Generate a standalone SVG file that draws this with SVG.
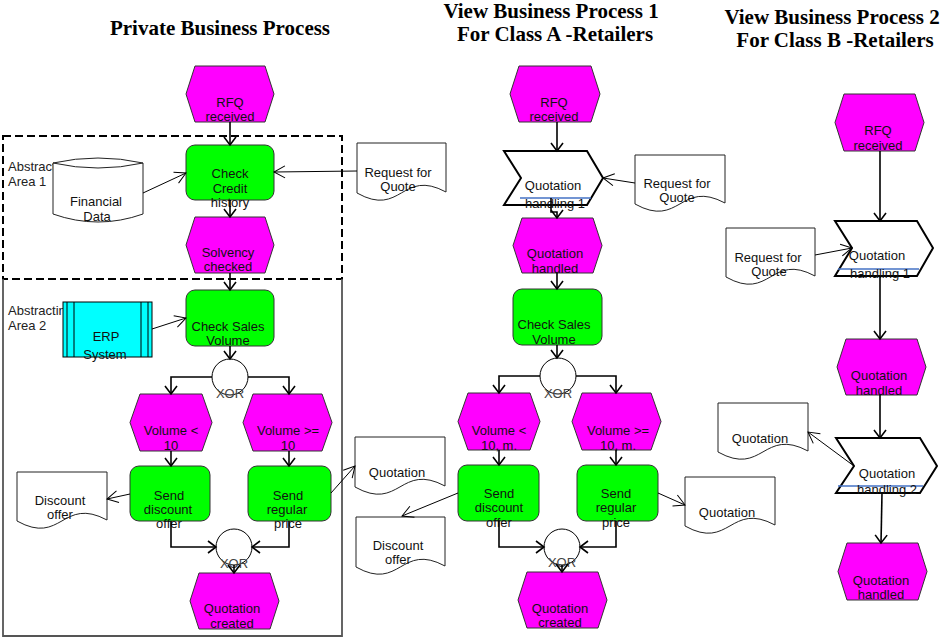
<svg xmlns="http://www.w3.org/2000/svg" width="945" height="637" viewBox="0 0 945 637">
<defs>
<style>
.ev{fill:#FF00FF;stroke:#333;stroke-width:1}
.fn{fill:#00FF00;stroke:#333;stroke-width:1}
.doc{fill:#fff;stroke:#222;stroke-width:1}
.chev{fill:#fff;stroke:#000;stroke-width:2}
.blue{stroke:#4472C4;stroke-width:1.5;fill:none}
.xor{fill:#fff;stroke:#000;stroke-width:1}
.t{font-family:"Liberation Sans",Arial,sans-serif;font-size:13px;fill:#111;text-anchor:middle}
.tx{font-family:"Liberation Sans",Arial,sans-serif;font-size:13px;fill:#444;text-anchor:middle}
.ta{font-family:"Liberation Sans",Arial,sans-serif;font-size:13px;fill:#222}
.title{font-family:"Liberation Serif","Times New Roman",serif;font-size:21px;font-weight:bold;fill:#000;text-anchor:middle}
.c{fill:none;stroke:#000;stroke-width:1.6}
.ct{fill:none;stroke:#000;stroke-width:1}
</style>
<marker id="arr" markerUnits="userSpaceOnUse" viewBox="-10 -8 12 16" refX="0" refY="0" markerWidth="12" markerHeight="16" orient="auto">
<path d="M-8,-6 L0,0 L-8,6" fill="none" stroke="#000" stroke-width="1.6"/>
</marker>
<marker id="arrt" markerUnits="userSpaceOnUse" viewBox="-13 -8 15 16" refX="0" refY="0" markerWidth="15" markerHeight="16" orient="auto">
<path d="M-11,-6 L0,0 L-11,6" fill="none" stroke="#000" stroke-width="1"/>
</marker>
</defs>
<rect width="945" height="637" fill="#fff"/>

<g id="titles">
<text class="title" x="220" y="35">Private Business Process</text>
<text class="title" x="551" y="18">View Business Process 1</text>
<text class="title" x="555" y="41">For Class A -Retailers</text>
<text class="title" x="832" y="24">View Business Process  2</text>
<text class="title" x="835" y="47">For Class B -Retailers</text>
</g>

<g id="area1">
<text class="ta" x="8" y="171">Abstracting</text>
<text class="ta" x="8" y="186">Area 1</text>
<rect x="3" y="136" width="339" height="143" fill="none" stroke="#000" stroke-width="2" stroke-dasharray="8,4"/>
</g>
<g id="area2">
<text class="ta" x="8" y="315">Abstracting</text>
<text class="ta" x="8" y="330">Area 2</text>
<path d="M3,279 V636 H342 V279" fill="none" stroke="#555" stroke-width="1.8"/>
</g>

<!-- Private process nodes -->
<g id="p-rfq"><polygon class="ev" points="195,66 265,66 274,94 265,122 195,122 186,94"/><text class="t" x="230" y="107">RFQ</text><text class="t" x="230" y="121">received</text></g>
<g id="p-checkcredit"><rect class="fn" x="186" y="145" width="88" height="55" rx="9"/><text class="t" x="230" y="178">Check</text><text class="t" x="230" y="193">Credit</text><text class="t" x="230" y="207">history</text></g>
<g id="p-findata"><path d="M53,163 Q98,153 143,163 V214 Q98,230 53,214 Z" fill="#fff" stroke="#222" stroke-width="1"/><path d="M53,163 Q98,173 143,163" fill="none" stroke="#222" stroke-width="1"/><text class="t" x="96" y="206">Financial</text><text class="t" x="97" y="221">Data</text></g>
<g id="p-reqquote"><path class="doc" d="M357,143 H446 V192 C401.5,168 401.5,218 357,193 Z"/><text class="t" x="398" y="177">Request for</text><text class="t" x="398" y="191">Quote</text></g>
<g id="p-solvency"><polygon class="ev" points="195,217 265,217 274,245 265,273 195,273 186,245"/><text class="t" x="228" y="257">Solvency</text><text class="t" x="228" y="271">checked</text></g>
<g id="p-erp"><rect x="63" y="302" width="89" height="55" fill="#00FFFF" stroke="#000" stroke-width="1"/><path d="M67,302 V357 M74,302 V357 M141,302 V357 M148,302 V357" stroke="#000" stroke-width="1"/><text class="t" x="106" y="341">ERP</text><text class="t" x="105" y="359">System</text></g>
<g id="p-checksales"><rect class="fn" x="186" y="290" width="88" height="56" rx="9"/><text class="t" x="228" y="331">Check Sales</text><text class="t" x="228" y="345">Volume</text></g>
<g id="p-xor1"><circle class="xor" cx="230" cy="377" r="18"/><text class="tx" x="230" y="398">XOR</text></g>
<g id="p-vollt"><polygon class="ev" points="140,394 202,394 212,422.5 202,451 140,451 130,422.5"/><text class="t" x="171" y="435">Volume  &lt;</text><text class="t" x="171" y="450">10</text></g>
<g id="p-volge"><polygon class="ev" points="253,394 322,394 332,422.5 322,451 253,451 243,422.5"/><text class="t" x="288" y="435">Volume  &gt;=</text><text class="t" x="288" y="450">10</text></g>
<g id="p-senddisc"><rect class="fn" x="130" y="466" width="80" height="55" rx="9"/><text class="t" x="169" y="500">Send</text><text class="t" x="168" y="514">discount</text><text class="t" x="169" y="528">offer</text></g>
<g id="p-sendreg"><rect class="fn" x="248" y="466" width="83" height="55" rx="9"/><text class="t" x="288" y="500">Send</text><text class="t" x="287" y="514">regular</text><text class="t" x="288" y="528">price</text></g>
<g id="p-discdoc"><path class="doc" d="M17,472 H107 V520 C62,496 62,546 17,521 Z"/><text class="t" x="60" y="505">Discount</text><text class="t" x="60" y="519">offer</text></g>
<g id="p-quotdoc"><path class="doc" d="M355,437 H445 V486 C400,462 400,512 355,487 Z"/><text class="t" x="397" y="477">Quotation</text></g>
<g id="p-xor2"><circle class="xor" cx="234" cy="547" r="18"/><text class="tx" x="234" y="568">XOR</text></g>
<g id="p-qcreated"><polygon class="ev" points="199,573 270,573 279,601 270,629 199,629 190,601"/><text class="t" x="232" y="613">Quotation</text><text class="t" x="232" y="628">created</text></g>

<!-- View 1 nodes -->
<g id="v1-rfq"><polygon class="ev" points="519,66 591,66 600,94 591,122 519,122 510,94"/><text class="t" x="554" y="107">RFQ</text><text class="t" x="554" y="121">received</text></g>
<g id="v1-qh"><polygon class="chev" points="504,151 587,151 603,178 587,205 504,205 521,178"/><line class="blue" x1="520" y1="198" x2="591" y2="198"/><text class="t" x="553" y="190">Quotation</text><text class="t" x="555" y="208">handling  1</text></g>
<g id="v1-reqquote"><path class="doc" d="M635,155 H725 V203 C680,179 680,229 635,204 Z"/><text class="t" x="677" y="188">Request for</text><text class="t" x="677" y="202">Quote</text></g>
<g id="v1-qhandled"><polygon class="ev" points="522,218 593,218 602,245.5 593,273 522,273 513,245.5"/><text class="t" x="555" y="258">Quotation</text><text class="t" x="555" y="273">handled</text></g>
<g id="v1-checksales"><rect class="fn" x="513" y="289" width="89" height="56" rx="9"/><text class="t" x="554" y="329">Check Sales</text><text class="t" x="554" y="344">Volume</text></g>
<g id="v1-xor1"><circle class="xor" cx="558" cy="376" r="18"/><text class="tx" x="558" y="398">XOR</text></g>
<g id="v1-vollt"><polygon class="ev" points="468,393 530,393 540,421.5 530,450 468,450 458,421.5"/><text class="t" x="499" y="435">Volume  &lt;</text><text class="t" x="499" y="450">10, m.</text></g>
<g id="v1-volge"><polygon class="ev" points="582,393 651,393 661,421.5 651,450 582,450 572,421.5"/><text class="t" x="618" y="435">Volume  &gt;=</text><text class="t" x="618" y="450">10, m.</text></g>
<g id="v1-senddisc"><rect class="fn" x="458" y="465" width="81" height="56" rx="9"/><text class="t" x="499" y="498">Send</text><text class="t" x="499" y="512">discount</text><text class="t" x="499" y="527">offer</text></g>
<g id="v1-sendreg"><rect class="fn" x="577" y="465" width="81" height="56" rx="9"/><text class="t" x="616" y="498">Send</text><text class="t" x="616" y="512">regular</text><text class="t" x="616" y="527">price</text></g>
<g id="v1-discdoc"><path class="doc" d="M356,517 H445 V566 C400.5,542 400.5,592 356,567 Z"/><text class="t" x="398" y="550">Discount</text><text class="t" x="398" y="564">offer</text></g>
<g id="v1-quotdoc"><path class="doc" d="M685,477 H775 V525 C730,501 730,551 685,526 Z"/><text class="t" x="727" y="517">Quotation</text></g>
<g id="v1-xor2"><circle class="xor" cx="562" cy="547" r="18"/><text class="tx" x="562" y="567">XOR</text></g>
<g id="v1-qcreated"><polygon class="ev" points="527,572 598,572 607,600 598,628 527,628 518,600"/><text class="t" x="560" y="613">Quotation</text><text class="t" x="560" y="627">created</text></g>

<!-- View 2 nodes -->
<g id="v2-rfq"><polygon class="ev" points="844,94 915,94 924,122.5 915,151 844,151 835,122.5"/><text class="t" x="878" y="135">RFQ</text><text class="t" x="878" y="150">received</text></g>
<g id="v2-reqquote"><path class="doc" d="M726,228 H815 V276 C770.5,252 770.5,302 726,277 Z"/><text class="t" x="768" y="262">Request for</text><text class="t" x="769" y="276">Quote</text></g>
<g id="v2-qh1"><polygon class="chev" points="835,221 917,221 933,248 917,276 835,276 852,248"/><line class="blue" x1="838" y1="269" x2="919" y2="269"/><text class="t" x="877" y="260">Quotation</text><text class="t" x="880" y="278">handling  1</text></g>
<g id="v2-qhandled"><polygon class="ev" points="846,339 917,339 926,367 917,395 846,395 837,367"/><text class="t" x="879" y="380">Quotation</text><text class="t" x="879" y="395">handled</text></g>
<g id="v2-quotdoc"><path class="doc" d="M718,403 H808 V451 C763,427 763,477 718,452 Z"/><text class="t" x="760" y="443">Quotation</text></g>
<g id="v2-qh2"><polygon class="chev" points="836,438 920,438 937,466 920,493 836,493 854,466"/><line class="blue" x1="838" y1="486" x2="923" y2="486"/><text class="t" x="887" y="478">Quotation</text><text class="t" x="887" y="494">handling  2</text></g>
<g id="v2-qhandled2"><polygon class="ev" points="847,543 918,543 927,571.5 918,600 847,600 838,571.5"/><text class="t" x="881" y="585">Quotation</text><text class="t" x="881" y="599">handled</text></g>

<g id="connectors">
<line class="c" x1="230" y1="122" x2="230" y2="145" marker-end="url(#arr)"/>
<line class="c" x1="230" y1="200" x2="230" y2="217" marker-end="url(#arr)"/>
<line class="c" x1="230" y1="273" x2="230" y2="290" marker-end="url(#arr)"/>
<line class="c" x1="230" y1="346" x2="230" y2="359" marker-end="url(#arr)"/>
<polyline class="c" points="212,377 171,377 171,394" marker-end="url(#arr)"/>
<polyline class="c" points="248,377 289,377 289,394" marker-end="url(#arr)"/>
<line class="c" x1="171" y1="451" x2="171" y2="466" marker-end="url(#arr)"/>
<line class="c" x1="289" y1="451" x2="289" y2="466" marker-end="url(#arr)"/>
<polyline class="c" points="171,521 171,547 216,547" marker-end="url(#arr)"/>
<polyline class="c" points="289,521 289,547 252,547" marker-end="url(#arr)"/>
<line class="c" x1="234" y1="565" x2="234" y2="573" marker-end="url(#arr)"/>
<line class="ct" x1="143" y1="193" x2="186" y2="173" marker-end="url(#arrt)"/>
<line class="ct" x1="357" y1="171" x2="274" y2="172" marker-end="url(#arrt)"/>
<line class="ct" x1="152" y1="329" x2="186" y2="318" marker-end="url(#arrt)"/>
<line class="ct" x1="130" y1="494" x2="107" y2="499" marker-end="url(#arrt)"/>
<line class="ct" x1="331" y1="493" x2="355" y2="466" marker-end="url(#arrt)"/>

<line class="c" x1="557" y1="122" x2="557" y2="151" marker-end="url(#arr)"/>
<polyline class="c" points="551,198 551,212 557,212 557,218" marker-end="url(#arr)"/>
<line class="c" x1="557" y1="273" x2="557" y2="289" marker-end="url(#arr)"/>
<line class="c" x1="557" y1="345" x2="557" y2="358" marker-end="url(#arr)"/>
<polyline class="c" points="540,376 499,376 499,393" marker-end="url(#arr)"/>
<polyline class="c" points="576,376 616,376 616,393" marker-end="url(#arr)"/>
<line class="c" x1="499" y1="450" x2="499" y2="465" marker-end="url(#arr)"/>
<line class="c" x1="616" y1="450" x2="616" y2="465" marker-end="url(#arr)"/>
<polyline class="c" points="499,521 499,547 544,547" marker-end="url(#arr)"/>
<polyline class="c" points="616,521 616,547 580,547" marker-end="url(#arr)"/>
<line class="c" x1="562" y1="565" x2="562" y2="572" marker-end="url(#arr)"/>
<line class="ct" x1="635" y1="183" x2="603" y2="178" marker-end="url(#arrt)"/>
<line class="ct" x1="458" y1="493" x2="402" y2="516" marker-end="url(#arrt)"/>
<line class="ct" x1="658" y1="493" x2="685" y2="505" marker-end="url(#arrt)"/>

<line class="c" x1="880" y1="151" x2="880" y2="221" marker-end="url(#arr)"/>
<line class="ct" x1="815" y1="255" x2="852" y2="248" marker-end="url(#arrt)"/>
<line class="c" x1="880" y1="276" x2="880" y2="339" marker-end="url(#arr)"/>
<line class="c" x1="880" y1="395" x2="880" y2="438" marker-end="url(#arr)"/>
<line class="ct" x1="854" y1="466" x2="808" y2="432" marker-end="url(#arrt)"/>
<line class="c" x1="882" y1="493" x2="881" y2="543" marker-end="url(#arr)"/>
</g>
</svg>
